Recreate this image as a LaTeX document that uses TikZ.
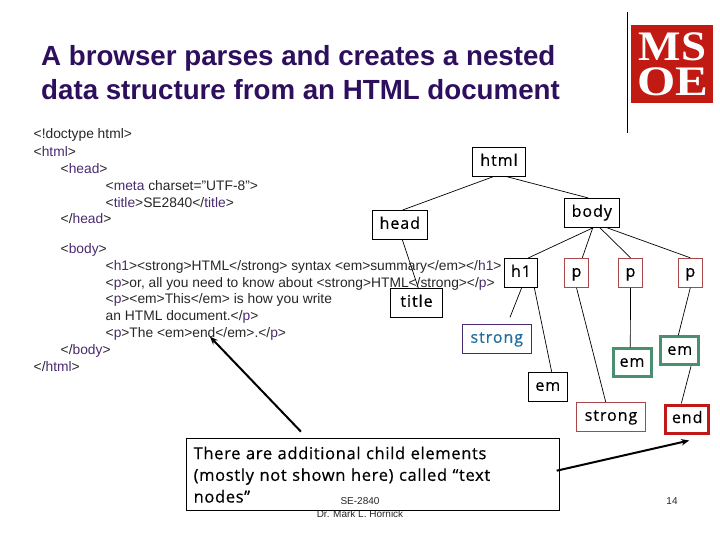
\documentclass[tikz,border=0pt]{standalone}
\usepackage{fontspec}
\setmainfont{Liberation Sans}
\newfontfamily\handfont[LetterSpace=4,FakeBold=0.5]{Open Sans}
\newfontfamily\treefont[LetterSpace=6,FakeBold=0.5]{Open Sans}
\newfontfamily\logofont{Liberation Serif}
\usetikzlibrary{arrows.meta}
\definecolor{tagc}{HTML}{4A2A70}
\definecolor{ttl}{HTML}{2E0F5E}
\definecolor{stc}{HTML}{1F6E9C}
\definecolor{pbd}{HTML}{A84848}
\definecolor{grn}{HTML}{4A8F70}
\definecolor{rdd}{HTML}{C01818}
\definecolor{lgo}{HTML}{C01A12}
\newcommand{\tg}[1]{\textcolor{tagc}{#1}}
\tikzset{
  code/.style={anchor=west,inner sep=0pt,font=\fontsize{13.8}{16}\selectfont,text=black!85},
  tree/.style={draw=black,line width=0.7pt,fill=white,inner sep=0pt,font=\treefont\fontsize{16}{18}\selectfont,text height=11pt,text depth=3pt},
  pbox/.style={tree,draw=pbd,line width=1pt},
  gbox/.style={tree,draw=grn,line width=3pt},
  edge/.style={black,line width=0.7pt},
  note/.style={black,line width=2pt,-{Stealth[length=8pt,width=6.5pt]}},
  foot/.style={inner sep=0pt,font=\fontsize{10}{12}\selectfont,text=black!85},
}
\begin{document}
\begin{tikzpicture}[x=1pt,y=-1pt]
\useasboundingbox (0,0) rectangle (720,540);
\node[anchor=west,inner sep=0pt,align=left,font=\bfseries\fontsize{27.7}{33.5}\selectfont,text=ttl] (heading) at (41,72.5) {A browser parses and creates a nested\\data structure from an HTML document};
\coordinate (vt) at (627.5,12); \coordinate (vb) at (627.5,133);
\draw[black,line width=1pt] (vt) -- (vb);
\node[fill=lgo,minimum width=82pt,minimum height=78pt,inner sep=0pt] (logo) at (671.8,63.8) {};
\node[inner sep=0pt,text=white,font=\logofont\bfseries\fontsize{42}{42}\selectfont,xscale=1.07] (ms) at (672.5,47) {MS};
\node[inner sep=0pt,text=white,font=\logofont\bfseries\fontsize{42}{42}\selectfont,xscale=1.17] (oe) at (672.5,81.5) {OE};

\node[code] (c1) at (33.5,135) {<!doctype html>};
\node[code] (c2) at (33.5,152) {<\tg{html}>};
\node[code] (c3) at (60.5,169) {<\tg{head}>};
\node[code] (c4) at (105.5,186) {<\tg{meta} charset="UTF-8">};
\node[code] (c5) at (105.5,203) {<\tg{title}>SE2840</\tg{title}>};
\node[code] (c6) at (60.5,219) {</\tg{head}>};
\node[code] (c7) at (60.5,250) {<\tg{body}>};
\node[code] (c8) at (105.5,267) {<\tg{h1}><strong>HTML</strong> syntax <em>summary</em></\tg{h1}>};
\node[code] (c9) at (105.5,283.5) {<\tg{p}>or, all you need to know about <strong>HTML</strong></\tg{p}>};
\node[code] (c10) at (105.5,300) {<\tg{p}><em>This</em> is how you write};
\node[code] (c11) at (105.5,317) {an HTML document.</\tg{p}>};
\node[code] (c12) at (105.5,334) {<\tg{p}>The <em>end</em>.</\tg{p}>};
\node[code] (c13) at (60.5,351) {</\tg{body}>};
\node[code] (c14) at (33.5,367) {</\tg{html}>};

\node[tree,minimum width=52.6pt,minimum height=29pt] (html) at (499,161.8) {html};
\node[tree,minimum width=55pt,minimum height=29pt] (head) at (399.8,224.8) {head};
\node[tree,minimum width=55pt,minimum height=29pt] (body) at (591.8,212.8) {body};
\node[tree,minimum width=33.4pt,minimum height=29pt] (h1) at (521,272.8) {h1};
\node[pbox,minimum width=24.4pt,minimum height=29pt] (p1) at (576.5,272.8) {p};
\node[pbox,minimum width=24.4pt,minimum height=29pt] (p2) at (630.5,272.8) {p};
\node[pbox,minimum width=24pt,minimum height=29pt] (p3) at (690.3,272.8) {p};
\node[tree,minimum width=51.6pt,minimum height=29pt] (title) at (416.5,302.8) {title};
\node[tree,draw=tagc,text=stc,minimum width=69pt,minimum height=29pt] (strong1) at (496.8,338.8) {strong};
\node[tree,minimum width=39pt,minimum height=29pt] (em1) at (547.8,386.8) {em};
\node[tree,draw=pbd,minimum width=69.4pt,minimum height=29pt] (strong2) at (611,416.8) {strong};
\node[gbox,minimum width=38pt,minimum height=28pt] (em2) at (632,362.8) {em};
\node[gbox,minimum width=38pt,minimum height=28pt] (em3) at (679.8,350.8) {em};
\node[gbox,draw=rdd,minimum width=43.5pt,minimum height=28pt] (end) at (687.2,419) {end};

\coordinate (h1s) at (510,317.3);
\draw[edge] ([xshift=-5.7pt]html.south) -- ([xshift=3pt]head.north);
\draw[edge] ([xshift=7.7pt]html.south) -- ([xshift=-3.5pt]body.north);
\draw[edge] ([xshift=2.5pt]head.south) -- ([xshift=1.8pt]title.north);
\draw[edge] ([xshift=1.5pt]body.south) -- ([xshift=7.3pt]h1.north);
\draw[edge] ([xshift=1pt]body.south) -- ([xshift=5.8pt]p1.north);
\draw[edge] ([xshift=8pt]body.south) -- (p2.north);
\draw[edge] ([xshift=14.9pt]body.south) -- (p3.north);
\draw[edge] ([xshift=0.7pt]h1.south) -- (h1s);
\draw[edge] ([xshift=13.3pt]h1.south) -- ([xshift=3.9pt]em1.north);
\draw[edge] (p1.south) -- ([xshift=-5.3pt]strong2.north);
\draw[edge] (p2.south) -- ([xshift=-1.7pt]em2.north);
\draw[edge] (p3.south) -- ([xshift=-1.5pt]em3.north);
\draw[edge] ([xshift=11.2pt]em3.south) -- ([xshift=-5.9pt]end.north);

\node[foot] (dr) at (360,514) {Dr. Mark L. Hornick};
\node[tree,draw=black,anchor=north west,minimum width=373pt,minimum height=72pt,text width=359pt,align=left,inner xsep=7pt,inner ysep=3pt,text height=,text depth=,font=\handfont\fontsize{16.5}{21.7}\selectfont] (msg) at (186.3,438.3) {There are additional child elements\\(mostly not shown here) called “text\\nodes”};
\node[foot] (se) at (360,501) {SE-2840};
\node[foot] (num) at (672,501) {14};
\coordinate (a1) at (301,431.7); \coordinate (a2) at (210,336.7);
\coordinate (a3) at (556.7,470.7);
\draw[note] (a1) -- (a2);
\draw[note] (a3) -- ([xshift=2pt,yshift=-6pt]end.south);
\end{tikzpicture}
\end{document}
